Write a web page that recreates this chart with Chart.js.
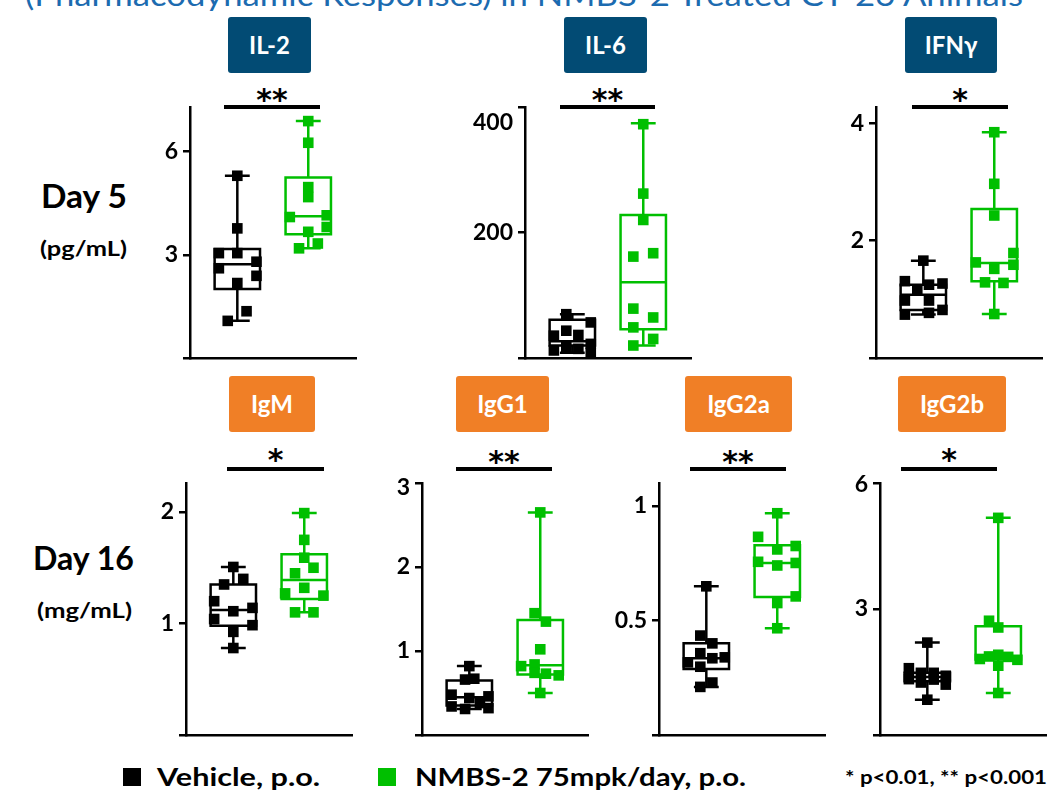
<!DOCTYPE html>
<html><head><meta charset="utf-8">
<script src="https://cdn.jsdelivr.net/npm/chart.js@4/dist/chart.umd.min.js"></script>
<style>
html,body{margin:0;padding:0;background:#fff;overflow:hidden;width:1048px;height:795px;}
body{position:relative;font-family:Lato,"Open Sans",sans-serif;}
.cv{position:absolute;}
.t{position:absolute;white-space:nowrap;line-height:1;font-weight:700;transform-origin:0 0;color:#000;}
.hdr{position:absolute;border-radius:3px;display:flex;align-items:center;justify-content:center;color:#fff;font-weight:700;font-size:24px;line-height:1;}
.blue{background:#024B74;}
.orange{background:#F07F26;}
.bar{position:absolute;height:4px;background:#000;}
.ast{position:absolute;text-align:center;font-family:"DejaVu Sans",sans-serif;font-weight:700;font-size:30px;line-height:1;color:#000;}
.sq{position:absolute;width:18px;height:18px;}
</style></head><body>

<div class="t" data-w="998" style="left:25px;top:-21px;font-size:31px;font-weight:400;color:#1C6BB0;">(Pharmacodynamic Responses) in NMBS-2 Treated CT-26 Animals</div>

<div class="hdr blue" style="left:228px;top:17px;width:83px;height:56px;">IL-2</div>
<div class="hdr blue" style="left:564px;top:17px;width:83px;height:56px;">IL-6</div>
<div class="hdr blue" style="left:905px;top:17px;width:92px;height:56px;">IFNγ</div>
<div class="hdr orange" style="left:229px;top:376px;width:86px;height:56px;">IgM</div>
<div class="hdr orange" style="left:456px;top:376px;width:93px;height:56px;">IgG1</div>
<div class="hdr orange" style="left:685px;top:376px;width:107px;height:56px;">IgG2a</div>
<div class="hdr orange" style="left:898px;top:376px;width:108px;height:56px;">IgG2b</div>

<div class="bar" style="left:224px;top:104.5px;width:96px;"></div>
<div class="bar" style="left:560px;top:104.5px;width:95px;"></div>
<div class="bar" style="left:912px;top:104.5px;width:96px;"></div>
<div class="bar" style="left:227px;top:466.5px;width:97px;"></div>
<div class="bar" style="left:456px;top:466.5px;width:96px;"></div>
<div class="bar" style="left:690px;top:466.5px;width:96px;"></div>
<div class="bar" style="left:901px;top:466.5px;width:96px;"></div>

<div class="ast" style="left:224px;top:85px;width:96px;">**</div>
<div class="ast" style="left:560px;top:85px;width:95px;">**</div>
<div class="ast" style="left:912px;top:85px;width:96px;">*</div>
<div class="ast" style="left:227px;top:445px;width:97px;">*</div>
<div class="ast" style="left:456px;top:447px;width:96px;">**</div>
<div class="ast" style="left:690px;top:447px;width:96px;">**</div>
<div class="ast" style="left:901px;top:445px;width:96px;">*</div>

<div class="t" data-w="86" style="left:41px;top:180px;font-size:32px;">Day 5</div>
<div class="t" data-w="87" style="left:40px;top:238px;font-size:20px;">(pg/mL)</div>
<div class="t" data-w="101" style="left:33px;top:542px;font-size:32px;">Day 16</div>
<div class="t" data-w="95" style="left:37px;top:600px;font-size:20px;">(mg/mL)</div>

<div class="sq" style="left:123px;top:768px;background:#000;"></div>
<div class="t" data-w="163" style="left:157px;top:765px;font-size:24px;">Vehicle, p.o.</div>
<div class="sq" style="left:378px;top:768px;background:#00BF00;"></div>
<div class="t" data-w="331" style="left:415px;top:765px;font-size:24px;">NMBS-2 75mpk/day, p.o.</div>
<div class="t" data-w="202" style="left:845px;top:768px;font-size:18px;">* p&lt;0.01, ** p&lt;0.001</div>

<script>
// ---------- data ----------
const X_VEH = 1, X_TRT = 2;

// box stats: [min, q1, median, q3, max]
const il2Vehicle       = [5.30, 3.77, 3.05, 3.05, 2.80, 2.61, 2.39, 2.18, 1.36, 1.08];
const il2VehicleJitter = [0, 0, -0.26, 0, 0.27, -0.26, 0.27, 0, 0.13, -0.135];
const il2VehicleBox    = [1.08, 2.01, 2.73, 3.17, 5.30];
const il2Treated       = [6.89, 6.26, 4.97, 4.68, 4.10, 4.15, 3.81, 3.67, 3.33, 3.19];
const il2TreatedJitter = [0, 0, 0, 0, -0.26, 0.26, 0.26, 0, 0.135, -0.13];
const il2TreatedBox    = [3.19, 3.60, 4.12, 5.25, 6.89];
const il2Ticks = [0, 3, 6];
const il2TickLabels = ['', '3', '6'];

const il6Vehicle       = [69.8, 56.7, 43.5, 35.6, 36.7, 22.5, 17.3, 14.6, 12.0, 8.3];
const il6VehicleJitter = [-0.085, 0.26, -0.085, -0.26, 0.085, 0.26, -0.085, 0.085, -0.26, 0.26];
const il6VehicleBox    = [8.3, 20, 26.8, 60.8, 69.8];
const il6Treated       = [372.6, 262, 220, 167, 161.6, 78.7, 64.6, 48.8, 30.4, 19.9];
const il6TreatedJitter = [0, 0, 0, 0.14, -0.14, -0.14, 0.14, -0.14, 0.14, -0.14];
const il6TreatedBox    = [19.9, 46, 120.6, 228, 374];
const il6Ticks = [0, 200, 400];
const il6TickLabels = ['', '200', '400'];

const ifngVehicle       = [1.66, 1.31, 1.27, 1.25, 1.16, 0.98, 0.98, 0.82, 0.77, 0.74];
const ifngVehicleJitter = [0, -0.26, 0.27, 0.08, -0.085, -0.26, 0.08, 0.27, 0.08, -0.26];
const ifngVehicleBox    = [0.74, 0.82, 1.08, 1.25, 1.66];
const ifngTreated       = [3.85, 2.97, 2.43, 1.79, 1.63, 1.59, 1.52, 1.29, 1.28, 0.75];
const ifngTreatedJitter = [0, 0, 0, 0.27, -0.26, 0.27, 0, -0.13, 0.13, 0];
const ifngTreatedBox    = [0.75, 1.31, 1.62, 2.54, 3.85];
const ifngTicks = [0, 2, 4];
const ifngTickLabels = ['', '2', '4'];

const igmVehicle       = [1.507, 1.40, 1.35, 1.20, 1.14, 1.11, 1.04, 0.985, 0.925, 0.78];
const igmVehicleJitter = [0, 0.14, -0.13, -0.27, 0.27, 0, -0.27, 0.27, 0, 0];
const igmVehicleBox    = [0.78, 0.98, 1.12, 1.35, 1.507];
const igmTreated       = [1.99, 1.75, 1.59, 1.50, 1.45, 1.32, 1.27, 1.25, 1.10, 1.10];
const igmTreatedJitter = [0, 0, 0, 0.13, -0.13, 0, -0.27, 0.27, -0.13, 0.13];
const igmTreatedBox    = [1.10, 1.22, 1.39, 1.62, 1.99];
const igmTicks = [0, 1, 2];
const igmTickLabels = ['', '1', '2'];

const igg1Vehicle       = [0.82, 0.67, 0.66, 0.48, 0.46, 0.44, 0.38, 0.34, 0.32, 0.31];
const igg1VehicleJitter = [0, 0.07, -0.06, -0.25, 0.27, 0, 0.15, -0.25, 0.27, -0.06];
const igg1VehicleBox    = [0.31, 0.35, 0.45, 0.65, 0.82];
const igg1Treated       = [2.65, 1.45, 1.35, 1.02, 0.82, 0.84, 0.74, 0.73, 0.71, 0.50];
const igg1TreatedJitter = [0, -0.08, 0.08, 0, -0.27, -0.08, -0.08, 0.08, 0.26, 0];
const igg1TreatedBox    = [0.50, 0.72, 0.83, 1.37, 2.65];
const igg1Ticks = [0, 1, 2, 3];
const igg1TickLabels = ['', '1', '2', '3'];

const igg2aVehicle       = [0.649, 0.434, 0.40, 0.357, 0.335, 0.339, 0.317, 0.298, 0.229, 0.21];
const igg2aVehicleJitter = [0, -0.085, 0.085, -0.085, 0.085, 0.26, -0.26, -0.085, 0.085, -0.085];
const igg2aVehicleBox    = [0.21, 0.288, 0.335, 0.40, 0.649];
const igg2aTreated       = [0.968, 0.865, 0.825, 0.81, 0.756, 0.751, 0.74, 0.605, 0.576, 0.466];
const igg2aTreatedJitter = [0, -0.27, 0.26, 0, -0.27, 0.26, 0, 0.26, 0, 0];
const igg2aTreatedBox    = [0.466, 0.602, 0.751, 0.828, 0.968];
const igg2aTicks = [0, 0.5, 1];
const igg2aTickLabels = ['', '0.5', '1'];

const igg2bVehicle       = [2.20, 1.59, 1.48, 1.48, 1.41, 1.33, 1.32, 1.25, 1.20, 0.84];
const igg2bVehicleJitter = [0, -0.26, -0.09, 0.09, 0.26, -0.26, 0.09, -0.09, 0.26, 0];
const igg2bVehicleBox    = [0.84, 1.28, 1.38, 1.48, 2.20];
const igg2bTreated       = [5.17, 2.72, 2.56, 1.91, 1.87, 1.86, 1.81, 1.79, 1.65, 1.00];
const igg2bTreatedJitter = [0, -0.13, 0, 0, -0.13, 0.14, -0.26, 0.27, 0, 0];
const igg2bTreatedBox    = [1.00, 1.80, 1.86, 2.59, 5.17];
const igg2bTicks = [0, 3, 6];
const igg2bTickLabels = ['', '3', '6'];

// ---------- styling / layout ----------
const VEH_COLOR = '#000000', TRT_COLOR = '#00BF00';
const BOX_HALF = 0.32, CAP_HALF = 0.175;
const PAD_L = 52, PAD_T = 26, PAD_B = 10, PAD_R = 6, PLOT_W = 168;

function boxPlugin(groups) {
  return {
    id: 'boxes',
    beforeDatasetsDraw(chart) {
      const {ctx, scales: {x, y}} = chart;
      const Y = v => y.getPixelForValue(v);
      ctx.save();
      ctx.lineWidth = 2.5;
      groups.forEach(g => {
        const [mn, q1, md, q3, mx] = g.stats;
        const cx = x.getPixelForValue(g.pos);
        const l = x.getPixelForValue(g.pos - BOX_HALF), r = x.getPixelForValue(g.pos + BOX_HALF);
        const cl = x.getPixelForValue(g.pos - CAP_HALF), cr = x.getPixelForValue(g.pos + CAP_HALF);
        ctx.strokeStyle = g.color;
        ctx.beginPath();
        ctx.rect(l, Y(q3), r - l, Y(q1) - Y(q3));
        ctx.moveTo(l, Y(md)); ctx.lineTo(r, Y(md));
        ctx.moveTo(cx, Y(q3)); ctx.lineTo(cx, Y(mx));
        ctx.moveTo(cl, Y(mx)); ctx.lineTo(cr, Y(mx));
        ctx.moveTo(cx, Y(q1)); ctx.lineTo(cx, Y(mn));
        ctx.moveTo(cl, Y(mn)); ctx.lineTo(cr, Y(mn));
        ctx.stroke();
      });
      ctx.restore();
    }
  };
}

function tickLabelPlugin(labels, topNudge) {
  return {
    id: 'tickLabels',
    afterDraw(chart) {
      const {ctx, scales: {y}, chartArea} = chart;
      ctx.save();
      ctx.font = 'bold 23px Lato, "Open Sans", sans-serif';
      ctx.fillStyle = '#000';
      ctx.textAlign = 'right';
      ctx.textBaseline = 'middle';
      y.ticks.forEach((t, i) => {
        const lab = labels[i];
        if (!lab) return;
        let py = y.getPixelForValue(t.value);
        if (t.value === y.max) py += topNudge;
        ctx.fillText(lab, chartArea.left - 12, py);
      });
      ctx.restore();
    }
  };
}

function makePanel(p) {
  const cv = document.createElement('canvas');
  const W = PAD_L + PLOT_W + PAD_R;
  const H = PAD_T + (p.bottom - p.top) + PAD_B;
  cv.width = W; cv.height = H;
  cv.className = 'cv';
  cv.style.left = (p.axisX - PAD_L) + 'px';
  cv.style.top = (p.top - PAD_T) + 'px';
  document.body.appendChild(cv);
  const pts = (vals, jit, base) => vals.map((v, i) => ({x: base + jit[i], y: v}));
  const ds = (data, color) => ({
    data, backgroundColor: color, borderColor: color, pointStyle: 'rect',
    pointRadius: 7.5, pointBorderWidth: 0, pointHoverRadius: 7.5, clip: false
  });
  new Chart(cv, {
    type: 'scatter',
    data: {datasets: [
      ds(pts(p.veh, p.vehJ, X_VEH), VEH_COLOR),
      ds(pts(p.trt, p.trtJ, X_TRT), TRT_COLOR)
    ]},
    options: {
      responsive: false, animation: false, devicePixelRatio: 1,
      events: [],
      layout: {padding: {left: 0, right: PAD_R, top: PAD_T, bottom: PAD_B}},
      plugins: {legend: {display: false}, tooltip: {enabled: false}},
      scales: {
        x: {
          type: 'linear', min: 0.333, max: 2.68,
          ticks: {display: false},
          grid: {display: true, drawOnChartArea: false, drawTicks: false},
          border: {display: true, width: 2.5, color: '#000'},
          afterFit(s) { s.height = 0; }
        },
        y: {
          type: 'linear', min: 0, max: p.yMax,
          afterBuildTicks(s) { s.ticks = p.ticks.map(v => ({value: v})); },
          ticks: {display: false},
          grid: {display: true, drawOnChartArea: false, drawTicks: true, tickLength: 7, lineWidth: 2.5, color: '#000'},
          border: {display: true, width: 2.5, color: '#000'},
          afterFit(s) { s.width = PAD_L; }
        }
      }
    },
    plugins: [
      boxPlugin([{pos: X_VEH, stats: p.vehBox, color: VEH_COLOR}, {pos: X_TRT, stats: p.trtBox, color: TRT_COLOR}]),
      tickLabelPlugin(p.tickLabels, p.topNudge || 0)
    ]
  });
}

const ROW1 = {top: 107, bottom: 358.5};
const ROW2 = {top: 483, bottom: 735};

makePanel({...ROW1, axisX: 190, yMax: 7.3, ticks: il2Ticks, tickLabels: il2TickLabels,
  veh: il2Vehicle, vehJ: il2VehicleJitter, vehBox: il2VehicleBox, trt: il2Treated, trtJ: il2TreatedJitter, trtBox: il2TreatedBox});
makePanel({...ROW1, axisX: 525, yMax: 400, topNudge: 16, ticks: il6Ticks, tickLabels: il6TickLabels,
  veh: il6Vehicle, vehJ: il6VehicleJitter, vehBox: il6VehicleBox, trt: il6Treated, trtJ: il6TreatedJitter, trtBox: il6TreatedBox});
makePanel({...ROW1, axisX: 876, yMax: 4.28, ticks: ifngTicks, tickLabels: ifngTickLabels,
  veh: ifngVehicle, vehJ: ifngVehicleJitter, vehBox: ifngVehicleBox, trt: ifngTreated, trtJ: ifngTreatedJitter, trtBox: ifngTreatedBox});
makePanel({...ROW2, axisX: 186, yMax: 2.26, ticks: igmTicks, tickLabels: igmTickLabels,
  veh: igmVehicle, vehJ: igmVehicleJitter, vehBox: igmVehicleBox, trt: igmTreated, trtJ: igmTreatedJitter, trtBox: igmTreatedBox});
makePanel({...ROW2, axisX: 422, yMax: 3, topNudge: 5, ticks: igg1Ticks, tickLabels: igg1TickLabels,
  veh: igg1Vehicle, vehJ: igg1VehicleJitter, vehBox: igg1VehicleBox, trt: igg1Treated, trtJ: igg1TreatedJitter, trtBox: igg1TreatedBox});
makePanel({...ROW2, axisX: 659, yMax: 1.10, ticks: igg2aTicks, tickLabels: igg2aTickLabels,
  veh: igg2aVehicle, vehJ: igg2aVehicleJitter, vehBox: igg2aVehicleBox, trt: igg2aTreated, trtJ: igg2aTreatedJitter, trtBox: igg2aTreatedBox});
makePanel({...ROW2, axisX: 879.5, yMax: 6, topNudge: 2, ticks: igg2bTicks, tickLabels: igg2bTickLabels,
  veh: igg2bVehicle, vehJ: igg2bVehicleJitter, vehBox: igg2bVehicleBox, trt: igg2bTreated, trtJ: igg2bTreatedJitter, trtBox: igg2bTreatedBox});

// stretch text blocks horizontally to the measured widths
document.querySelectorAll('.t[data-w]').forEach(el => {
  const w = parseFloat(el.dataset.w);
  const cur = el.getBoundingClientRect().width;
  if (cur > 0) el.style.transform = 'scaleX(' + (w / cur) + ')';
});
</script>
</body></html>
